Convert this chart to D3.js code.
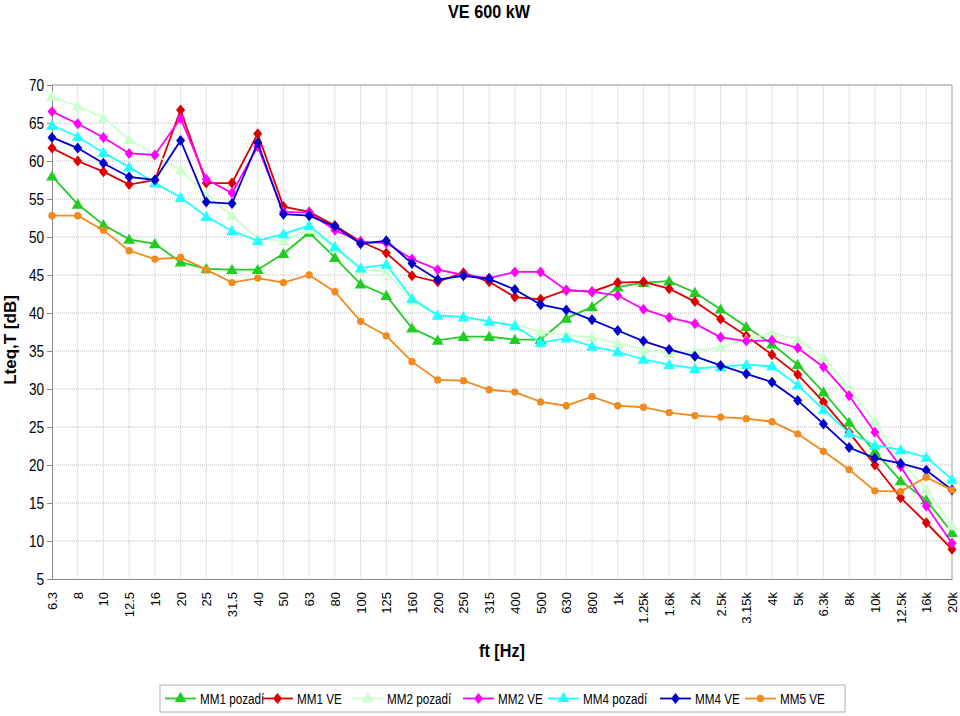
<!DOCTYPE html>
<html><head><meta charset="utf-8">
<script src="https://cdn.jsdelivr.net/npm/d3@7"></script>
<style>
body{margin:0;background:#fff;}
svg{display:block;}
</style></head>
<body>
<svg id="chart" width="960" height="716"></svg>
<script>
const categories = ["6.3","8","10","12.5","16","20","25","31.5","40","50","63","80","100","125","160","200","250","315","400","500","630","800","1k","1.25k","1.6k","2k","2.5k","3.15k","4k","5k","6.3k","8k","10k","12.5k","16k","20k"];
const yTicks = [5,10,15,20,25,30,35,40,45,50,55,60,65,70];

const mm1Pozadi = [58.0,54.3,51.6,49.7,49.1,46.7,45.8,45.7,45.7,47.8,50.6,47.3,43.8,42.3,38.0,36.4,36.9,36.9,36.5,36.5,39.3,40.8,43.4,44.0,44.2,42.7,40.5,38.2,35.9,33.2,29.6,25.6,21.8,17.9,15.4,11.1];
const mm1VE = [61.7,60.0,58.6,56.9,57.5,66.7,57.1,57.1,63.6,54.0,53.3,51.5,49.4,47.9,44.9,44.1,45.3,44.1,42.1,41.8,43.0,42.8,44.0,44.1,43.2,41.5,39.2,37.0,34.5,31.9,28.3,24.3,20.0,15.7,12.4,8.9];
const mm2Pozadi = [68.5,67.2,65.7,62.8,60.9,58.8,55.5,52.8,49.8,49.5,51.0,48.5,45.7,45.4,41.6,39.7,39.4,38.9,38.5,37.5,37.1,36.8,36.0,35.2,34.7,35.0,35.5,36.5,37.4,36.5,34.2,30.1,25.7,20.5,16.8,12.0];
const mm2VE = [66.5,64.9,63.1,61.0,60.8,65.6,57.6,55.8,61.9,53.3,53.2,50.9,49.4,49.2,47.1,45.7,45.0,44.6,45.4,45.4,43.0,42.8,42.3,40.5,39.4,38.6,36.8,36.3,36.4,35.4,32.9,29.1,24.3,19.8,14.6,9.7];
const mm4Pozadi = [64.7,63.2,61.1,59.2,57.1,55.2,52.7,50.8,49.5,50.4,51.5,48.7,45.9,46.4,41.9,39.7,39.5,38.9,38.3,36.1,36.7,35.6,34.9,33.9,33.2,32.7,32.9,33.2,33.0,30.5,27.3,24.2,22.6,22.0,21.0,18.1];
const mm4VE = [63.1,61.7,59.7,57.9,57.5,62.7,54.6,54.4,62.4,53.0,52.8,51.4,49.1,49.5,46.5,44.4,44.9,44.5,43.1,41.1,40.4,39.1,37.7,36.3,35.2,34.3,33.1,32.0,30.9,28.5,25.4,22.3,20.9,20.2,19.3,16.7];
const mm5VE = [52.8,52.8,50.9,48.2,47.1,47.3,45.7,44.0,44.6,44.0,45.0,42.8,38.9,37.0,33.6,31.2,31.1,29.9,29.6,28.3,27.8,29.0,27.8,27.6,26.9,26.5,26.3,26.1,25.7,24.1,21.8,19.4,16.6,16.5,18.4,16.7];

const seriesNames = ["MM1 pozadí","MM1 VE","MM2 pozadí","MM2 VE","MM4 pozadí","MM4 VE","MM5 VE"];
const seriesValues = [mm1Pozadi,mm1VE,mm2Pozadi,mm2VE,mm4Pozadi,mm4VE,mm5VE];
const seriesColors = ["#22cc22","#dd0000","#ccffcc","#ff00ff","#22ffff","#0000cc","#f28a1e"];
const seriesMarkers = ["triangle","diamond","triangle","diamond","triangle","diamond","circle"];

const FONT = "Liberation Sans, Arial, sans-serif";
const svg = d3.select("#chart");
const L = 52, R = 952, T = 85, B = 579;

const x = d3.scalePoint().domain(categories).range([L, R]);
const y = d3.scaleLinear().domain([5, 70]).range([B, T]);

// title (condensed)
svg.append("text").attr("transform","translate(489,18) scale(0.9,1)").attr("text-anchor","middle")
  .attr("font-family",FONT).attr("font-weight","bold").attr("font-size",18)
  .text("VE 600 kW");

// grid
const g = svg.append("g");
g.selectAll(".hg").data(yTicks.filter(v=>v>5)).enter().append("line")
  .attr("x1",L).attr("x2",R).attr("y1",d=>y(d)).attr("y2",d=>y(d))
  .attr("stroke","#b8b8b8").attr("stroke-width",1).attr("stroke-dasharray","1,1");
g.selectAll(".vg").data(categories.slice(1,-1)).enter().append("line")
  .attr("x1",d=>x(d)).attr("x2",d=>x(d)).attr("y1",T).attr("y2",B)
  .attr("stroke","#c8c8c8").attr("stroke-width",1).attr("stroke-dasharray","1,1");
g.append("line").attr("x1",L).attr("x2",R).attr("y1",T).attr("y2",T).attr("stroke","#a0a0a0");
g.append("line").attr("x1",R).attr("x2",R).attr("y1",T).attr("y2",B).attr("stroke","#a0a0a0");

// y axis
const yAxis = d3.axisLeft(y).tickValues(yTicks).tickSize(5).tickFormat(d3.format("d"));
const ya = svg.append("g").attr("transform",`translate(${L},0)`).call(yAxis);
ya.select(".domain").attr("stroke","#888");
ya.selectAll(".tick line").attr("stroke","#888");
ya.selectAll(".tick text").attr("font-family",FONT).attr("font-size",16).attr("fill","#000")
  .attr("x",0).attr("dy","0.36em")
  .attr("transform","translate(-8,0) scale(0.85,1)");

// x axis
const xAxis = d3.axisBottom(x).tickSize(0);
const xa = svg.append("g").attr("transform",`translate(0,${B})`).call(xAxis);
xa.select(".domain").attr("stroke","#888");
xa.selectAll(".tick text").attr("font-family",FONT).attr("font-size",13).attr("fill","#000")
  .attr("transform","rotate(-90)").attr("text-anchor","end").attr("x",-13).attr("y",0).attr("dy","0.35em");

// axis titles
svg.append("text").attr("transform","translate(16,340) rotate(-90)").attr("text-anchor","middle")
  .attr("font-family",FONT).attr("font-weight","bold").attr("font-size",17)
  .text("Lteq,T [dB]");
svg.append("text").attr("transform","translate(502,657) scale(0.9,1)").attr("text-anchor","middle")
  .attr("font-family",FONT).attr("font-weight","bold").attr("font-size",18)
  .text("ft [Hz]");

function markerPath(type){
  if(type==="triangle") return d3.symbol().type(d3.symbolTriangle).size(60)();
  if(type==="diamond") return "M0,-5.5L4.5,0L0,5.5L-4.5,0Z";
  return d3.symbol().type(d3.symbolCircle).size(42)();
}

const line = d3.line().x((d,i)=>x(categories[i])).y(d=>y(d));
seriesValues.forEach((vals,si)=>{
  const sg = svg.append("g");
  sg.append("path").datum(vals).attr("d",line).attr("fill","none")
    .attr("stroke",seriesColors[si]).attr("stroke-width",1.8);
  sg.selectAll("path.m").data(vals).enter().append("path").attr("class","m")
    .attr("d",markerPath(seriesMarkers[si]))
    .attr("transform",(d,i)=>`translate(${x(categories[i])},${y(d)+(seriesMarkers[si]==="triangle"?1:0)})`)
    .attr("fill",seriesColors[si]);
});

// legend
const lg = svg.append("g");
lg.append("rect").attr("x",160).attr("y",685).attr("width",685).attr("height",27)
  .attr("fill","#fff").attr("stroke","#b0b0b0");
const legX = [165,262,352,463,548,660,745];
seriesNames.forEach((n,i)=>{
  const cx = legX[i];
  lg.append("line").attr("x1",cx).attr("x2",cx+31).attr("y1",698.5).attr("y2",698.5)
    .attr("stroke",seriesColors[i]).attr("stroke-width",1.8);
  lg.append("path").attr("d",markerPath(seriesMarkers[i])).attr("transform",`translate(${cx+15.5},${698.5})`)
    .attr("fill",seriesColors[i]);
  lg.append("text").attr("transform",`translate(${cx+35},704) scale(0.78,1)`)
    .attr("font-family",FONT).attr("font-size",15).text(n);
});
</script>
</body></html>
